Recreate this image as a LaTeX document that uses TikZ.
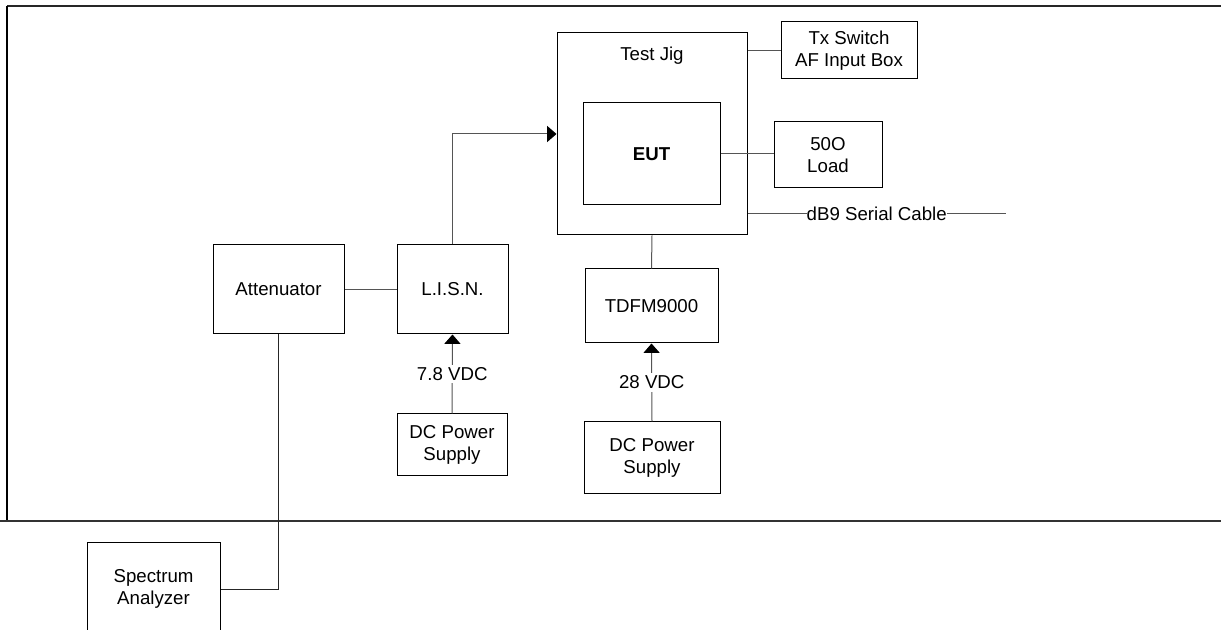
\documentclass[tikz,border=0pt]{standalone}
\usepackage{fontspec}
\setmainfont{Liberation Sans}
\usetikzlibrary{arrows.meta,positioning,calc}
\definecolor{wirecolor}{RGB}{85,85,85}

\begin{document}
\begin{tikzpicture}[x=0.75pt, y=-0.75pt,
    every node/.style={font=\fontsize{14}{16.5}\selectfont},
    box/.style={draw=black, line width=0.75pt, inner sep=0pt, align=center},
    wire/.style={draw=wirecolor, line width=0.75pt},
    feed/.style={wire, -{Triangle[length=7pt,width=12pt,black]}},
    tag/.style={fill=white, inner xsep=0pt, inner ysep=2pt}]
        \def\u{0.75pt}
        \useasboundingbox (0,0) rectangle (1221,630);

        % enclosure
        \draw[black!85, line width=0.9pt] (7,6) -- (1221,6);
        \draw[black, line width=1pt] (7,6) -- (7,521);
        \draw[black!80, line width=0.9pt] (0,521) -- (1221,521);

        % test jig and items on it
        \node[box, minimum width=190*\u, minimum height=202*\u] (jig) at (652,134) {};
        \node (jigtitle) at (652,56) {Test Jig};
        \node[box, minimum width=137*\u, minimum height=102*\u, font=\fontsize{14}{16.5}\selectfont\bfseries] (eut) at (651.5,154) {EUT};
        \node[box, minimum width=136*\u, minimum height=57*\u] (txsw) at (849,50.5) {Tx Switch\\AF Input Box};
        \node[box, minimum width=108*\u, minimum height=66*\u] (load) at (828,155) {50O\\Load};
        \node[box, minimum width=133*\u, minimum height=74*\u] (tdfm) at (651.5,306) {TDFM9000};
        \node[box, minimum width=136*\u, minimum height=72*\u] (psB) at (652,458) {DC Power\\Supply};

        % measuring side
        \node[box, minimum width=131*\u, minimum height=89*\u] (atten) at (278.5,289.5) {Attenuator};
        \node[box, minimum width=111*\u, minimum height=89*\u] (lisn) at (452.5,289.5) {L.I.S.N.};
        \node[box, minimum width=110*\u, minimum height=62*\u] (psA) at (452,445) {DC Power\\Supply};
        \node[box, minimum width=133*\u, minimum height=92*\u] (spec) at (153.5,589) {Spectrum\\Analyzer};

        % connections
        \draw[wire] (jig.east |- txsw.west) -- (txsw.west);
        \draw[wire] (eut.east) -- (eut.east -| load.west);
        \coordinate (dbend) at (1006,214);
        \draw[wire] (jig.east |- dbend) -- (dbend)
          node[tag, midway] (dbtag) {dB9 Serial Cable};
        \draw[wire] (jig.south) -- (tdfm.north);
        \draw[feed] (lisn.north) |- (jig.west);
        \draw[wire] (atten.east) -- (atten.east -| lisn.west);
        \draw[feed] (psA.north) -- (lisn.south)
          node[tag, midway] (vA) {7.8 VDC};
        \draw[feed] (psB.north) -- (tdfm.south)
          node[tag, midway] (vB) {28 VDC};
        \draw[wire, draw=black!85] (atten.south) |- (spec.east);
      \end{tikzpicture}
\end{document}
